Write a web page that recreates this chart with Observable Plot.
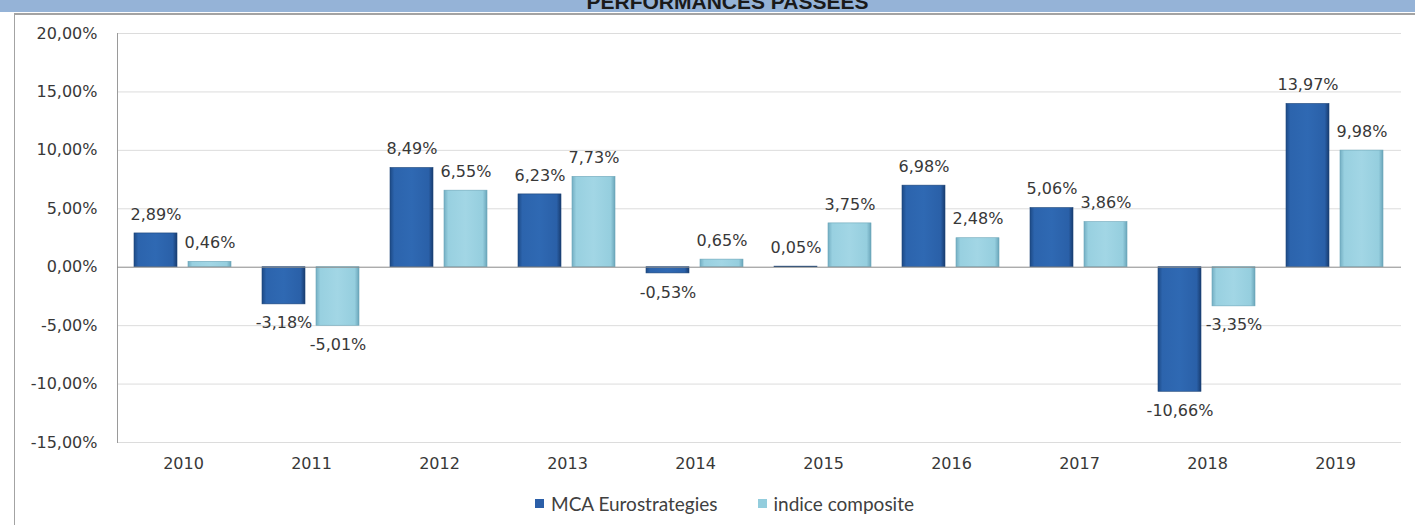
<!DOCTYPE html>
<html>
<head>
<meta charset="utf-8">
<script src="https://cdn.jsdelivr.net/npm/d3@7"></script>
<script src="https://cdn.jsdelivr.net/npm/@observablehq/plot@0.6"></script>
<style>
  html, body { margin: 0; padding: 0; background: #fff; }
  #page { position: relative; width: 1415px; height: 525px; overflow: hidden; background: #fff; }
  #titlebar { position: absolute; left: 0; top: 0; width: 1415px; height: 12px; background: #95b3d7; overflow: hidden; z-index: 3; }
  #titlebar span { position: absolute; left: 0; width: 1455px; text-align: center; top: -8px; font: bold 21px/20px "Liberation Sans", Arial, sans-serif; color: #1a1a1a; }
  #panel { position: absolute; left: 14px; top: 13px; width: 1401px; height: 512px; border-top: 2px solid #a3a3a3; border-left: 1px solid #a3a3a3; box-sizing: border-box; z-index: 2; pointer-events: none; }
  #chart { position: absolute; left: 0; top: 0; z-index: 1; }
  #legend { position: absolute; top: 490px; left: 535px; height: 26px; font: 19px Lato, "Liberation Sans", sans-serif; color: #404040; display: flex; align-items: center; z-index: 2; }
  #legend .sw { display: inline-block; width: 9px; height: 9px; margin-right: 7px; }
  #legend .item { display: flex; align-items: center; margin-right: 40px; }
</style>
</head>
<body>
<div id="page">
  <div id="titlebar"><span>PERFORMANCES PASSEES</span></div>
  <div id="panel"></div>
  <div id="chart"></div>
  <div id="legend"></div>
</div>
<script>
const years = ["2010","2011","2012","2013","2014","2015","2016","2017","2018","2019"];
const seriesNames = ["MCA Eurostrategies", "indice composite"];
const mcaValues = [2.89, -3.18, 8.49, 6.23, -0.53, 0.05, 6.98, 5.06, -10.66, 13.97];
const indiceValues = [0.46, -5.01, 6.55, 7.73, 0.65, 3.75, 2.48, 3.86, -3.35, 9.98];
const yTicks = [-15, -10, -5, 0, 5, 10, 15, 20];

const fmt = v => v.toFixed(2).replace(".", ",") + "%";
const mca = years.map((y, i) => ({year: y, value: mcaValues[i]}));
const ind = years.map((y, i) => ({year: y, value: indiceValues[i]}));

const labelMarks = (data, dx) => [
  Plot.text(data.filter(d => d.value >= 0), {x: "year", y: "value", text: d => fmt(d.value), dx, dy: -19, fill: "#383838"}),
  Plot.text(data.filter(d => d.value < 0), {x: "year", y: "value", text: d => fmt(d.value), dx, dy: 19, fill: "#383838"})
];

const chart = Plot.plot({
  width: 1415,
  height: 490,
  marginLeft: 117,
  marginRight: 14,
  marginTop: 33,
  marginBottom: 48,
  style: {fontFamily: "DejaVu Sans, Verdana, sans-serif", fontSize: "16px", color: "#383838", background: "transparent"},
  x: {domain: years, padding: 0, label: null},
  y: {domain: [-15, 20], label: null},
  marks: [
    Plot.ruleY(yTicks.filter(t => t !== 0), {y: d => d, stroke: "#dcdcdc", strokeWidth: 1}),
    Plot.frame({anchor: "left", stroke: "#9a9a9a"}),
    Plot.barY(mca, {x: "year", y: "value", insetLeft: 15, insetRight: 70, fill: "url(#gBlue)", stroke: "#1b4478", strokeWidth: 0.6}),
    Plot.barY(ind, {x: "year", y: "value", insetLeft: 69, insetRight: 16, fill: "url(#gLight)", stroke: "#6aa5b8", strokeWidth: 0.6}),
    Plot.ruleY([0], {stroke: "#8a8a8a", strokeWidth: 1}),
    ...labelMarks(mca, -27.5),
    ...labelMarks(ind, 26.5),
    Plot.axisY(yTicks, {tickSize: 0, tickPadding: 20, tickFormat: fmt, label: null}),
    Plot.axisX({tickSize: 0, tickPadding: 15, label: null})
  ]
});

// gradient definitions used by the bars
const defs = d3.select(chart).insert("defs", ":first-child");
function grad(id, stops) {
  const g = defs.append("linearGradient").attr("id", id).attr("x1", 0).attr("x2", 1).attr("y1", 0).attr("y2", 0);
  stops.forEach(([o, c]) => g.append("stop").attr("offset", o).attr("stop-color", c));
}
grad("gBlue", [[0, "#1d4a86"], [0.1, "#2c64ad"], [0.5, "#2f69b3"], [0.9, "#2a60a8"], [1, "#183c70"]]);
grad("gLight", [[0, "#74afc3"], [0.1, "#98d0e0"], [0.5, "#a2d6e5"], [0.9, "#95cede"], [1, "#6ba6ba"]]);

document.getElementById("chart").appendChild(chart);

// legend
const legend = d3.select("#legend");
const colors = ["#2b5fa8", "#93cddd"];
seriesNames.forEach((name, i) => {
  const item = legend.append("div").attr("class", "item");
  item.append("span").attr("class", "sw").style("background", colors[i]);
  item.append("span").text(name);
});
</script>
</body>
</html>
